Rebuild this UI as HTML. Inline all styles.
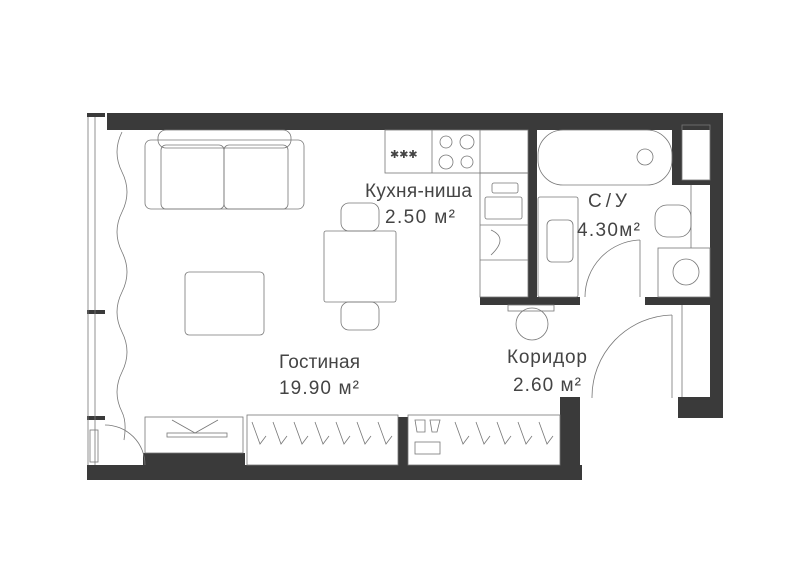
<!DOCTYPE html>
<html><head><meta charset="utf-8"><style>
html,body{margin:0;padding:0;background:#fff}
svg{display:block}
text{font-family:"Liberation Sans","DejaVu Sans",sans-serif;fill:#444}
</style></head><body>
<svg width="800" height="565" viewBox="0 0 800 565" xmlns="http://www.w3.org/2000/svg">
<g fill="#3a3a3a">
<rect x="107" y="113" width="616" height="17"/>
<rect x="710" y="113" width="13" height="305"/>
<rect x="678" y="397" width="32" height="21"/>
<rect x="672" y="113" width="10" height="72"/>
<rect x="682" y="180" width="28" height="5"/>
<rect x="528" y="113" width="9" height="192"/>
<rect x="480" y="297" width="100" height="8"/>
<rect x="645" y="297" width="65" height="8"/>
<rect x="87" y="465" width="495" height="15"/>
<rect x="143" y="453" width="102" height="12"/>
<rect x="398" y="417" width="10" height="48"/>
<rect x="560" y="397" width="20" height="83"/>
<rect x="87" y="113" width="18" height="4"/>
<rect x="87" y="310" width="18" height="4"/>
<rect x="87" y="416" width="18" height="4"/>
</g>
<g fill="none" stroke="#777" stroke-width="0.8">
<line x1="88" y1="117" x2="88" y2="465"/><line x1="95" y1="117" x2="95" y2="465"/>
<rect x="90" y="430" width="8" height="32"/>
<path d="M105 425 A40 40 0 0 1 145 465"/>
<path d="M122 132 q-10 20 0 40 q10 20 0 40 q-10 20 0 40 q10 20 0 40 q-10 20 0 40 q10 20 0 40 q-10 20 0 40 q5 10 2 28"/>
<rect x="145" y="140" width="159" height="69" rx="6"/>
<rect x="158" y="130" width="133" height="18" rx="8"/>
<rect x="161" y="145" width="63" height="64" rx="5"/>
<rect x="224" y="145" width="64" height="64" rx="5"/>
<rect x="185" y="272" width="79" height="63" rx="4"/>
<rect x="324" y="231" width="72" height="71" rx="2"/>
<rect x="341" y="203" width="38" height="28" rx="8"/>
<rect x="341" y="302" width="38" height="28" rx="8"/>
<rect x="385" y="130" width="143" height="43"/>
<line x1="432" y1="130" x2="432" y2="173"/><line x1="480" y1="130" x2="480" y2="173"/>
<circle cx="446" cy="142" r="6"/><circle cx="467" cy="142" r="7"/><circle cx="446" cy="162" r="7"/><circle cx="467" cy="162" r="6"/>
<text x="390" y="158" font-size="11" fill="#888" stroke="none">✱✱✱</text>
<rect x="480" y="173" width="48" height="124"/>
<rect x="485" y="197" width="37" height="22" rx="2"/>
<rect x="492" y="183" width="26" height="10" rx="2"/>
<line x1="480" y1="225" x2="528" y2="225"/><line x1="480" y1="260" x2="528" y2="260"/>
<path d="M491 230 q18 8 0 25"/>
<circle cx="532" cy="324" r="16"/><rect x="508" y="305" width="46" height="6"/>
<rect x="538" y="130" width="134" height="55" rx="25"/>
<circle cx="645" cy="157" r="8"/>
<rect x="538" y="197" width="40" height="100" rx="2"/>
<rect x="547" y="220" width="26" height="42" rx="5"/>
<rect x="655" y="205" width="36" height="32" rx="12"/>
<line x1="691" y1="185" x2="691" y2="248"/>
<rect x="658" y="248" width="52" height="49"/>
<circle cx="686" cy="272" r="13"/>
<rect x="682" y="125" width="28" height="55"/>
<line x1="640" y1="240" x2="640" y2="297"/>
<path d="M640 240 A57 57 0 0 0 585 297"/>
<line x1="672" y1="315" x2="672" y2="398"/>
<path d="M672 315 A82 82 0 0 0 592 398"/>
<line x1="682" y1="305" x2="682" y2="397"/>
<rect x="145" y="417" width="98" height="36"/>
<path d="M172 420 L195 433 L218 420"/><rect x="167" y="433" width="60" height="4"/>
<rect x="247" y="415" width="151" height="50"/>
<rect x="408" y="415" width="152" height="50"/>
<path d="M252 422 l8 22 l6 -8 M273 422 l8 22 l6 -8 M294 422 l8 22 l6 -8 M315 422 l8 22 l6 -8 M336 422 l8 22 l6 -8 M357 422 l8 22 l6 -8 M378 422 l8 22 l6 -8"/>
<path d="M455 422 l8 22 l6 -8 M476 422 l8 22 l6 -8 M497 422 l8 22 l6 -8 M518 422 l8 22 l6 -8 M539 422 l8 22 l6 -8"/>
<rect x="415" y="442" width="25" height="12"/>
<path d="M415 420 h10 v12 h-8z M430 420 h10 l-3 12 h-5z"/>
</g>
<g font-size="19">
<text x="365" y="197" textLength="107">Кухня-ниша</text>
<text x="385" y="223" textLength="70">2.50 м²</text>
<text x="279" y="368" textLength="81">Гостиная</text>
<text x="279" y="394" textLength="80">19.90 м²</text>
<text x="588" y="207" textLength="39">С/У</text>
<text x="577" y="236" textLength="63">4.30м²</text>
<text x="507" y="363" textLength="80">Коридор</text>
<text x="513" y="391" textLength="68">2.60 м²</text>
</g>
</svg>
</body></html>
